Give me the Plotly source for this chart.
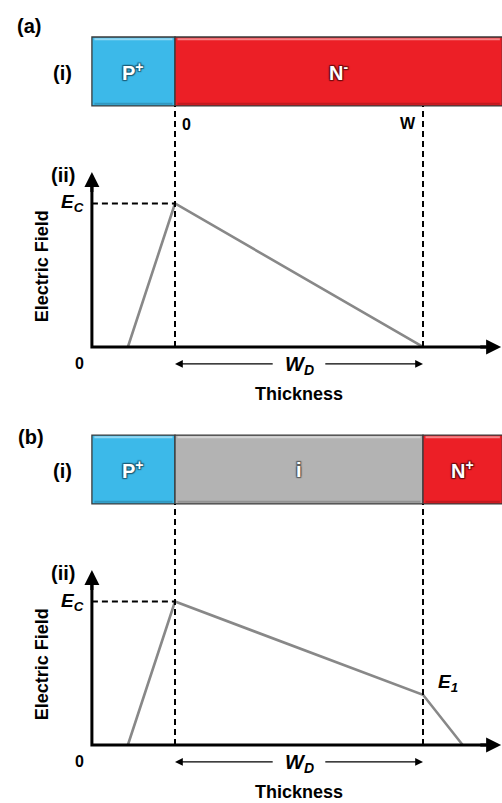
import plotly.graph_objects as go

# Thickness is normalised so the P+/N junction sits at 0 and the depletion edge W at 1;
# the electric field is normalised to the critical field E_C.
layers_a = ["P<sup>+</sup>", "N<sup>-</sup>"]
edges_a = [-0.335, 0.0, 1.32]
colors_a = ["#3cb9e9", "#ec1f26"]
shadow_a = ["#1d5f7a", "#6e0c10"]

layers_b = ["P<sup>+</sup>", "i", "N<sup>+</sup>"]
edges_b = [-0.335, 0.0, 1.0, 1.32]
colors_b = ["#3cb9e9", "#b3b3b3", "#ec1f26"]
shadow_b = ["#1d5f7a", "#5c5c5c", "#6e0c10"]

field_x_a = [-0.19, 0.0, 1.0]
field_y_a = [0.0, 1.0, 0.0]

field_x_b = [-0.19, 0.0, 1.0, 1.16]
field_y_b = [0.0, 1.0, 0.35, 0.0]

E_C = 1.0
W_D = (0.0, 1.0)

# ---- layout constants ----
FONT = "Liberation Sans, Arial, sans-serif"
BAR = (1.68, 2.16)          # vertical band of the layer strip (field units)
AXIS_TOP = 1.22
AXIS_LEFT = edges_a[0]
AXIS_RIGHT = 1.315
LABEL_X = -0.452
WD_Y = -0.118
THICK_Y = -0.33

fig = go.Figure()

fig.add_trace(go.Scatter(x=field_x_a, y=field_y_a, mode="lines", yaxis="y",
                         line=dict(color="#888888", width=2.6), hoverinfo="skip"))
fig.add_trace(go.Scatter(x=field_x_b, y=field_y_b, mode="lines", yaxis="y2",
                         line=dict(color="#888888", width=2.6), hoverinfo="skip"))

shapes = []
annotations = []


def text(x, y, yref, s, size, anchor="center", color="black", shadow=None):
    f = dict(family=FONT, size=size, color=color)
    if shadow:
        f["shadow"] = (f"1px 1px 1px {shadow}, -1px -1px 1px {shadow}, "
                       f"1px -1px 1px {shadow}, -1px 1px 1px {shadow}, "
                       f"0 0 2px {shadow}")
    annotations.append(dict(x=x, y=y, xref="x", yref=yref, text=s, showarrow=False,
                            xanchor=anchor, yanchor="middle", font=f))


def arrow(x_head, x_tail, y_head, y_tail, yref, width, head, size):
    annotations.append(dict(x=x_head, y=y_head, ax=x_tail, ay=y_tail, xref="x", yref=yref,
                            axref="x", ayref=yref, text="", showarrow=True,
                            arrowhead=head, arrowwidth=width, arrowsize=size,
                            arrowcolor="black", standoff=0, startstandoff=0))


def panel(yref, layers, edges, colors, shadows, tag, show_zero_w, e1=None):
    # layer strip
    for name, x0, x1, c, sh in zip(layers, edges[:-1], edges[1:], colors, shadows):
        shapes.append(dict(type="rect", xref="x", yref=yref, x0=x0, x1=x1,
                           y0=BAR[0], y1=BAR[1], fillcolor=c,
                           line=dict(color="#3a3a3a", width=1.3), layer="below"))
        shapes.append(dict(type="line", xref="x", yref=yref, x0=x0 + 0.01, x1=x1 - 0.01,
                           y0=BAR[1] - 0.015, y1=BAR[1] - 0.015,
                           line=dict(color="rgba(255,255,255,0.45)", width=2)))
        shapes.append(dict(type="line", xref="x", yref=yref, x0=x0 + 0.01, x1=x1 - 0.01,
                           y0=BAR[0] + 0.015, y1=BAR[0] + 0.015,
                           line=dict(color="rgba(0,0,0,0.18)", width=2)))
        text((x0 + min(x1, AXIS_RIGHT)) / 2, sum(BAR) / 2, yref, f"<b>{name}</b>", 20,
             color="white", shadow=sh)

    # dashed guides
    for xv in W_D:
        shapes.append(dict(type="line", xref="x", yref=yref, x0=xv, x1=xv, y0=0, y1=BAR[0],
                           line=dict(color="black", width=2, dash="6px,4px")))
    shapes.append(dict(type="line", xref="x", yref=yref, x0=AXIS_LEFT, x1=W_D[0],
                       y0=E_C, y1=E_C, line=dict(color="black", width=2, dash="6px,4px")))

    # axes
    fig.add_trace(go.Scatter(x=[AXIS_LEFT, AXIS_LEFT, AXIS_RIGHT - 0.06],
                             y=[AXIS_TOP - 0.08, 0, 0], mode="lines", yaxis=yref,
                             line=dict(color="black", width=3), hoverinfo="skip"))
    arrow(AXIS_LEFT, AXIS_LEFT, AXIS_TOP, AXIS_TOP - 0.15, yref, 3, 2, 1.0)
    arrow(AXIS_RIGHT, AXIS_RIGHT - 0.09, 0, 0, yref, 3, 2, 1.0)

    # W_D span arrows
    mid = sum(W_D) / 2
    arrow(W_D[0], mid - 0.1, WD_Y, WD_Y, yref, 1.2, 2, 1.3)
    arrow(W_D[1], mid + 0.1, WD_Y, WD_Y, yref, 1.2, 2, 1.3)
    text(mid, WD_Y - 0.01, yref, "<b><i>W</i></b><sub><b><i>D</i></b></sub>", 20)

    # labels
    text(LABEL_X, sum(BAR) / 2 - 0.01, yref, "<b>(i)</b>", 20)
    text(LABEL_X, 1.2, yref, "<b>(ii)</b>", 20)
    text(AXIS_LEFT - 0.025, E_C, yref, "<b><i>E</i></b><sub><b><i>C</i></b></sub>", 19,
         anchor="right")
    text(-0.387, -0.115, yref, "<b>0</b>", 16)
    text(0.5, THICK_Y, yref, "<b>Thickness</b>", 18)
    annotations.append(dict(x=-0.538, y=0.56, xref="x", yref=yref, text="<b>Electric Field</b>",
                            showarrow=False, textangle=-90,
                            font=dict(family=FONT, size=18, color="black")))
    if tag == "a":
        text(-0.589, 2.235, yref, "<b>(a)</b>", 20)
    else:
        text(-0.58, 2.146, yref, "<b>(b)</b>", 20)
    if show_zero_w:
        text(0.048, 1.55, yref, "<b>0</b>", 16)
        text(0.9375, 1.555, yref, "<b>W</b>", 16)
    if e1 is not None:
        text(1.10, e1 + 0.08, yref, "<b><i>E</i></b><sub><b><i>1</i></b></sub>", 19)


panel("y", layers_a, edges_a, colors_a, shadow_a, "a", True)
panel("y2", layers_b, edges_b, colors_b, shadow_b, "b", False, e1=field_y_b[2])

fig.update_layout(
    width=502, height=803,
    margin=dict(l=0, r=0, t=0, b=0),
    paper_bgcolor="white", plot_bgcolor="white",
    showlegend=False,
    xaxis=dict(range=[-0.7056, 1.3185], visible=False, fixedrange=True),
    yaxis=dict(range=[-3.178, 2.418], visible=False, fixedrange=True),
    yaxis2=dict(range=[-0.404, 5.192], visible=False, overlaying="y", fixedrange=True),
    shapes=shapes,
    annotations=annotations,
)

fig.write_html("out.html")
